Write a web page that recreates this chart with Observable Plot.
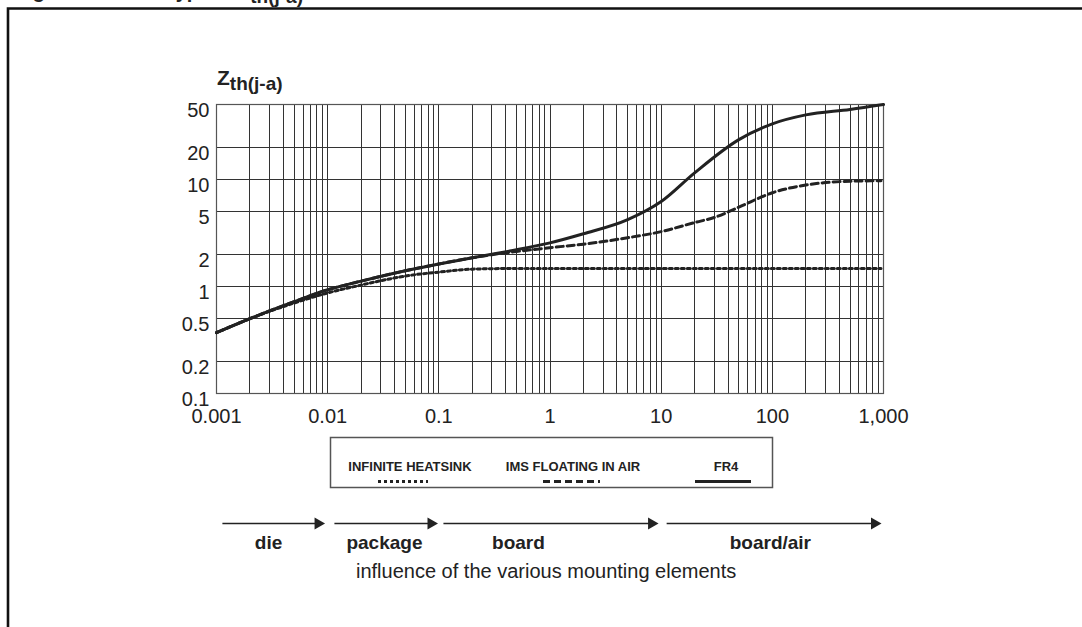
<!DOCTYPE html>
<html><head><meta charset="utf-8">
<script src="https://cdn.jsdelivr.net/npm/d3@7"></script>
<script src="https://cdn.jsdelivr.net/npm/@observablehq/plot@0.6"></script>
<style>
html,body{margin:0;padding:0;background:#fff;}
#wrap{position:relative;width:1082px;height:627px;overflow:hidden;background:#fff;font-family:"Liberation Sans",Arial,Helvetica,sans-serif;color:#222;}
#wrap > *{position:absolute;left:0;top:0;}
</style></head><body><div id="wrap"></div>
<script>
// ---- data ----
const xTicks = [0.001, 0.01, 0.1, 1, 10, 100, 1000];
const xTickLabels = ["0.001", "0.01", "0.1", "1", "10", "100", "1,000"];
const yTicks = [0.1, 0.2, 0.5, 1, 2, 5, 10, 20, 50];
const yTickLabels = ["0.1", "0.2", "0.5", "1", "2", "5", "10", "20", "50"];

const fr4Time = [0.001,0.002,0.005,0.01,0.02,0.05,0.1,0.2,0.3,0.5,1,2,5,10,20,50,100,200,500,1000];
const fr4Z    = [0.37,0.5,0.72,0.93,1.12,1.4,1.62,1.85,2.0,2.2,2.55,3.1,4.2,6.2,11.5,23.5,33,40,45,50];

const imsTime = [0.001,0.002,0.005,0.01,0.02,0.05,0.1,0.2,0.3,0.5,1,2,5,10,20,30,50,100,200,500,950];
const imsZ    = [0.37,0.5,0.72,0.93,1.12,1.4,1.62,1.85,1.98,2.12,2.3,2.48,2.85,3.25,3.95,4.4,5.5,7.5,8.85,9.6,9.7];

const infTime = [0.001,0.002,0.005,0.01,0.02,0.03,0.05,0.1,0.2,0.5,1,10,100,950];
const infZ    = [0.37,0.5,0.7,0.87,1.03,1.13,1.25,1.36,1.45,1.47,1.47,1.47,1.47,1.47];

const seriesNames = ["INFINITE HEATSINK", "IMS FLOATING IN AIR", "FR4"];
const seriesDash = ["3,3", "7,4", null];

const phaseNames = ["die", "package", "board", "board/air"];
const phaseStart = [0.00113, 0.0115, 0.110, 11.2];
const phaseEnd   = [0.0082, 0.085, 8.2, 830];
const phaseLabelAt = [0.00294, 0.0324, 0.52, 96];

const captionText = "influence of the various mounting elements";

// ---- build tables ----
const toRows = (t, z, s) => t.map((d, i) => ({time: d, z: z[i], series: s}));
const infRows = toRows(infTime, infZ, seriesNames[0]);
const imsRows = toRows(imsTime, imsZ, seriesNames[1]);
const fr4Rows = toRows(fr4Time, fr4Z, seriesNames[2]);

const xGrid = [];
for (let k = -3; k <= 2; k++) for (let m = 1; m <= 9; m++) xGrid.push(+(m * Math.pow(10, k)).toPrecision(3));
xGrid.push(1000);

const FONT = '"Liberation Sans", Arial, Helvetica, sans-serif';
const INK = "#222";
const W = 1082, ML = 216, MR = 199;
const xScale = {type: "log", domain: [0.001, 1000]};

const wrap = document.getElementById("wrap");

// ---- main chart ----
const main = Plot.plot({
  width: W, height: 430,
  marginLeft: ML, marginRight: MR, marginTop: 104, marginBottom: 37,
  style: {fontFamily: FONT, color: INK, background: "transparent", overflow: "visible"},
  x: {...xScale},
  y: {type: "log", domain: [0.1, 50], axis: null},
  marks: [
    Plot.ruleX(xGrid, {stroke: "#333", strokeWidth: 1, shapeRendering: "crispEdges"}),
    Plot.ruleY(yTicks, {stroke: "#333", strokeWidth: 1, shapeRendering: "crispEdges"}),
    Plot.frame({stroke: "#555", strokeWidth: 1.2}),
    Plot.axisX(xTicks, {tickSize: 0, tickPadding: 15, fontSize: 20, fill: INK,
      tickFormat: d => xTickLabels[xTicks.indexOf(d)], label: null}),
    Plot.text(yTicks, {y: d => d, frameAnchor: "left", textAnchor: "end", dx: -7, dy: 6,
      text: (d, i) => yTickLabels[i], fontSize: 20, fill: INK}),
    Plot.line(infRows, {x: "time", y: "z", stroke: INK, strokeWidth: 3, strokeDasharray: seriesDash[0], curve: "monotone-x"}),
    Plot.line(imsRows, {x: "time", y: "z", stroke: INK, strokeWidth: 3, strokeDasharray: seriesDash[1], curve: "monotone-x"}),
    Plot.line(fr4Rows, {x: "time", y: "z", stroke: INK, strokeWidth: 3, curve: "monotone-x"})
  ]
});
wrap.appendChild(main);

// y-axis title Z th(j-a)
const yl = d3.select(main).append("text")
  .attr("x", 217).attr("y", 85).attr("text-anchor", "start")
  .attr("font-family", FONT).attr("font-weight", "bold").attr("fill", INK);
yl.append("tspan").attr("font-size", 21).text("Z");
yl.append("tspan").attr("font-size", 19).attr("dy", 5).text("th(j-a)");

// ---- phases (mounting elements) ----
const phases = phaseNames.map((n, i) => ({name: n, start: phaseStart[i], end: phaseEnd[i], at: phaseLabelAt[i]}));
const phasePlot = Plot.plot({
  width: W, height: 70,
  marginLeft: ML, marginRight: MR, marginTop: 0, marginBottom: 0,
  style: {fontFamily: FONT, color: INK, background: "transparent", overflow: "visible"},
  x: {...xScale, axis: null},
  y: {type: "point", domain: ["arrow", "label"], range: [23, 42], padding: 0, axis: null},
  marks: [
    Plot.link(phases, {x1: "start", x2: "end", y1: () => "arrow", y2: () => "arrow", stroke: INK, strokeWidth: 1.5}),
    Plot.dot(phases, {x: "end", y: () => "arrow", symbol: "triangle", rotate: 90, r: 4.5, fill: INK, stroke: "none"}),
    Plot.text(phases, {x: "at", y: () => "label", text: "name", fontSize: 19, fontWeight: "bold", fill: INK})
  ]
});
phasePlot.style.top = "500px";
wrap.appendChild(phasePlot);

// ---- overlay: frame, title strip, legend, caption ----
const ov = d3.select(wrap).append("svg")
  .attr("width", W).attr("height", 627)
  .style("position", "absolute").style("left", 0).style("top", 0)
  .attr("font-family", FONT);

// outer frame (cropped on right and bottom)
ov.append("path").attr("d", "M8,640 V8.5 H1100").attr("fill", "none").attr("stroke", "#111").attr("stroke-width", 2.6);

// cropped figure title at the very top
const tt = ov.append("text").attr("y", -2).attr("font-weight", "bold").attr("font-size", 20).attr("fill", INK);
tt.append("tspan").attr("x", 15).text("Figure 5.");
tt.append("tspan").attr("x", 165).text("Typical Z");
tt.append("tspan").attr("dy", 5).attr("font-size", 19).text("th(j-a)");

// legend
const lg = ov.append("g");
lg.append("rect").attr("x", 330.5).attr("y", 437.5).attr("width", 442).attr("height", 50)
  .attr("fill", "none").attr("stroke", "#555").attr("stroke-width", 1.5);
const legX = [410, 573, 726];
const legLine = [[378, 428], [543, 600], [695, 751]];
seriesNames.forEach((n, i) => {
  lg.append("text").attr("x", legX[i]).attr("y", 471).attr("text-anchor", "middle")
    .attr("font-size", 13).attr("font-weight", "bold").attr("fill", INK).text(n);
  lg.append("line").attr("x1", legLine[i][0]).attr("x2", legLine[i][1]).attr("y1", 481.5).attr("y2", 481.5)
    .attr("stroke", INK).attr("stroke-width", 3).attr("stroke-dasharray", seriesDash[i]);
});

// caption
ov.append("text").attr("x", 356).attr("y", 578).attr("font-size", 20).attr("fill", INK).text(captionText);
</script></body></html>
